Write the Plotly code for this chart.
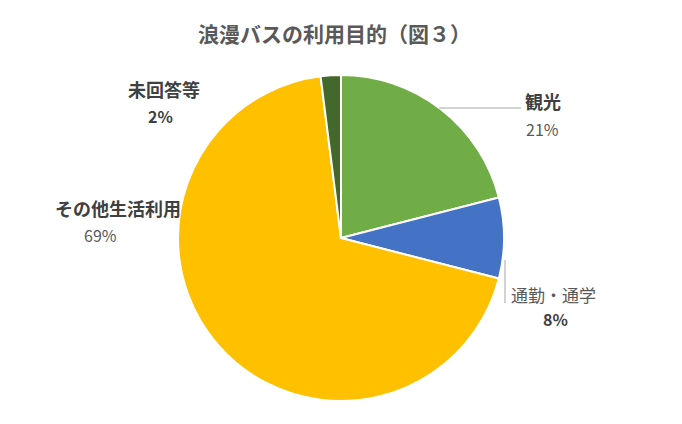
import plotly.graph_objects as go

categories = ["観光", "通勤・通学", "その他生活利用", "未回答等"]
values = [21, 8, 69, 2]
pct_labels = ["21%", "8%", "69%", "2%"]
colors = ["#70AD47", "#4472C4", "#FFC000", "#43682B"]

# page body has an 8px margin; work in screenshot pixel coordinates
OFF = 8
W, H = 682 - OFF, 424 - OFF
CX, CY, R = 341, 238, 163
FONT = "Noto Sans CJK JP, Noto Sans, sans-serif"


def px(x, y):
    return (x - OFF) / W, 1 - (y - OFF) / H


fig = go.Figure()
d0 = px(CX - R, CY + R)
d1 = px(CX + R, CY - R)
fig.add_trace(go.Pie(
    labels=categories,
    values=values,
    sort=False,
    direction="clockwise",
    rotation=0,
    textinfo="none",
    hoverinfo="label+percent",
    marker=dict(colors=colors, line=dict(color="white", width=2)),
    domain=dict(x=[d0[0], d1[0]], y=[d0[1], d1[1]]),
    showlegend=False,
))

# label layout: (name_x, name_y, name_bold, pct_x, pct_y, pct_bold, xanchor)
label_layout = [
    (523, 101, True, 542, 129, False, "left"),
    (509, 294, False, 555, 319, True, "left"),
    (183, 208, True, 100, 235, False, "right"),
    (202, 89, True, 160, 116, True, "right"),
]

annotations = []
for cat, pct, (nx, ny, nb, qx, qy, qb, xa) in zip(categories, pct_labels, label_layout):
    ax_, ay_ = px(nx, ny)
    annotations.append(dict(
        x=ax_, y=ay_, xref="paper", yref="paper", xanchor=xa, yanchor="middle",
        text=f"<b>{cat}</b>" if nb else cat, showarrow=False,
        font=dict(family=FONT, size=18 if nb else 17, color="#404040" if nb else "#595959"),
    ))
    bx, by = px(qx, qy)
    annotations.append(dict(
        x=bx, y=by, xref="paper", yref="paper", xanchor="center", yanchor="middle",
        text=f"<b>{pct}</b>" if qb else pct, showarrow=False,
        font=dict(family=FONT, size=16, color="#404040" if qb else "#595959"),
    ))

tx, ty = px(334, 33)
annotations.append(dict(
    x=tx, y=ty, xref="paper", yref="paper", xanchor="center", yanchor="middle",
    text="<b>浪漫バスの利用目的（図３）</b>", showarrow=False,
    font=dict(family=FONT, size=21, color="#595959"),
))

# leader lines
shapes = []
dy = 108 - CY
x0 = CX + (R ** 2 - dy ** 2) ** 0.5
for (a, b), (c, d) in [((x0, 108), (521, 108)), ((505, 260), (505, 303))]:
    p0, p1 = px(a, b), px(c, d)
    shapes.append(dict(type="line", xref="paper", yref="paper",
                       x0=p0[0], y0=p0[1], x1=p1[0], y1=p1[1],
                       line=dict(color="#A6A6A6", width=1)))

fig.update_layout(
    width=W, height=H,
    margin=dict(l=0, r=0, t=0, b=0),
    paper_bgcolor="white", plot_bgcolor="white",
    annotations=annotations, shapes=shapes,
)

fig.write_html("out.html")
